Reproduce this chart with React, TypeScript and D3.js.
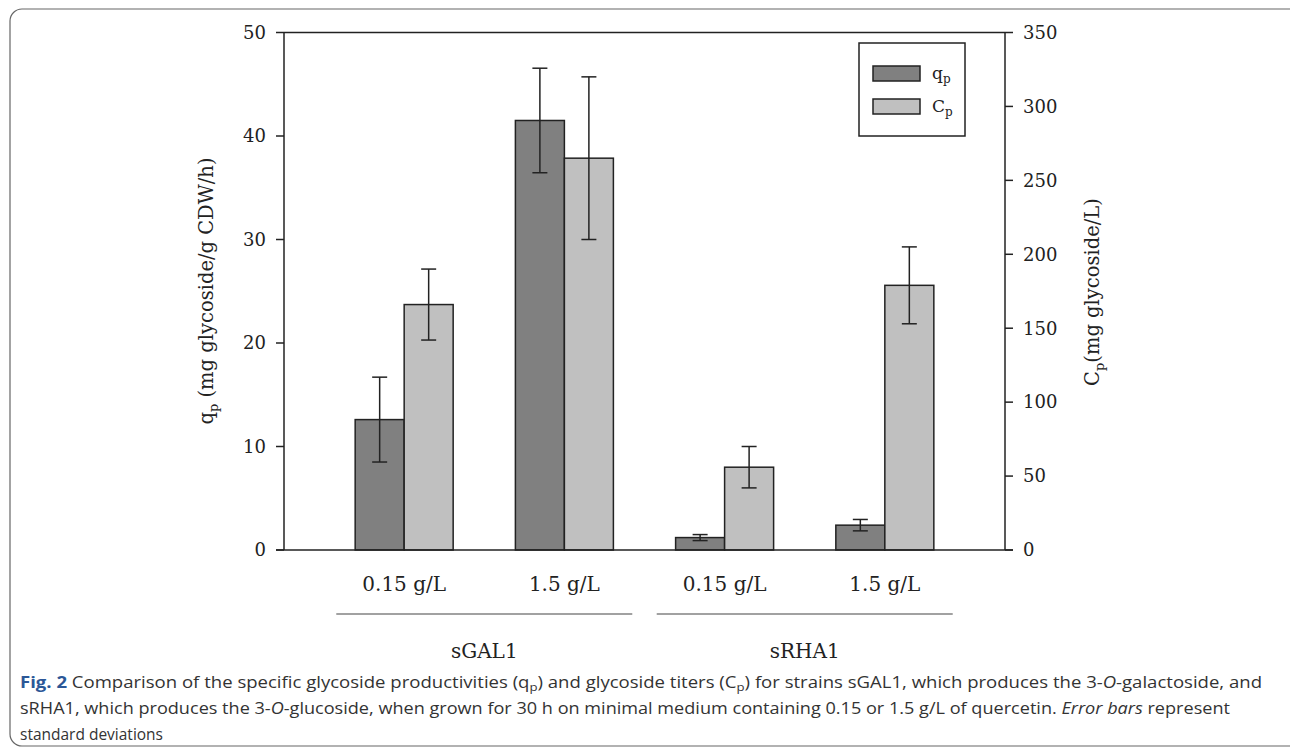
import React from 'react'
import { scalePoint, scaleBand, scaleLinear } from 'd3'

// chart values
const concentrations = ['0.15 g/L', '1.5 g/L', '0.15 g/L', '1.5 g/L']
const strains = ['sGAL1', 'sRHA1']
const qpValues = [12.6, 41.5, 1.2, 2.4]
const qpErrors = [4.1, 5.05, 0.29, 0.55]
const cpValues = [166, 265, 56, 179]
const cpErrors = [24, 55, 14, 26]
const qpTicks = [0, 10, 20, 30, 40, 50]
const cpTicks = [0, 50, 100, 150, 200, 250, 300, 350]

const W = 1290
const H = 750
const margin = { top: 32.5, bottom: 200, left: 284, right: 285 }
const ink = '#222'
const serif = '"DejaVu Serif", serif'
const sans = '"Open Sans", "Noto Sans", sans-serif'

export default function App() {
  const x = scalePoint<string>()
    .domain(concentrations.map((_, i) => String(i)))
    .range([margin.left, W - margin.right])
    .padding(0.75)
  const sub = scaleBand<string>().domain(['qp', 'cp']).range([-49, 49])
  const yq = scaleLinear().domain([0, 50]).range([H - margin.bottom, margin.top])
  const yc = scaleLinear().domain([0, 350]).range([H - margin.bottom, margin.top])

  const x0 = margin.left
  const x1 = W - margin.right
  const y0 = yq(0)

  const series = [
    { key: 'qp', values: qpValues, errors: qpErrors, y: yq, fill: '#808080' },
    { key: 'cp', values: cpValues, errors: cpErrors, y: yc, fill: '#c0c0c0' },
  ]

  return (
    <svg width={W} height={H} style={{ position: 'absolute', left: 0, top: 0, background: '#fff' }}>
      <rect x={10} y={9} width={1300} height={737} rx={12} fill="none" stroke="#666" strokeWidth={1.2} />

      {/* bars */}
      {series.map(s =>
        s.values.map((v, i) => {
          const cx = x(String(i))! + sub(s.key)!
          const bw = sub.bandwidth()
          return (
            <g key={s.key + i}>
              <rect x={cx} y={s.y(v)} width={bw} height={y0 - s.y(v)} fill={s.fill} stroke={ink} strokeWidth={1.5} />
              <line x1={cx + bw / 2} x2={cx + bw / 2} y1={s.y(v + s.errors[i])} y2={s.y(v - s.errors[i])} stroke={ink} strokeWidth={1.5} />
              <line x1={cx + bw / 2 - 7.5} x2={cx + bw / 2 + 7.5} y1={s.y(v + s.errors[i])} y2={s.y(v + s.errors[i])} stroke={ink} strokeWidth={1.5} />
              <line x1={cx + bw / 2 - 7.5} x2={cx + bw / 2 + 7.5} y1={s.y(v - s.errors[i])} y2={s.y(v - s.errors[i])} stroke={ink} strokeWidth={1.5} />
            </g>
          )
        })
      )}

      {/* frame of plot */}
      <line x1={x0} x2={x1} y1={margin.top} y2={margin.top} stroke={ink} strokeWidth={1.5} />
      <line x1={x0 - 8} x2={x1 + 8} y1={y0} y2={y0} stroke={ink} strokeWidth={1.5} />
      <line x1={x0} x2={x0} y1={margin.top} y2={y0} stroke={ink} strokeWidth={1.5} />
      <line x1={x1} x2={x1} y1={margin.top} y2={y0} stroke={ink} strokeWidth={1.5} />

      {/* left axis */}
      {qpTicks.map(t => (
        <g key={'q' + t}>
          <line x1={x0 - 8} x2={x0} y1={yq(t)} y2={yq(t)} stroke={ink} strokeWidth={1.5} />
          <text x={x0 - 18} y={yq(t)} dy="0.35em" textAnchor="end" fontFamily={serif} fontSize={18} fill={ink}>{t}</text>
        </g>
      ))}
      {/* right axis */}
      {cpTicks.map(t => (
        <g key={'c' + t}>
          <line x1={x1} x2={x1 + 8} y1={yc(t)} y2={yc(t)} stroke={ink} strokeWidth={1.5} />
          <text x={x1 + 18} y={yc(t)} dy="0.35em" textAnchor="start" fontFamily={serif} fontSize={18} fill={ink}>{t}</text>
        </g>
      ))}

      {/* axis titles */}
      <text transform="translate(206,291) rotate(-90)" textAnchor="middle" dy="0.35em" fontFamily={serif} fontSize={19.5} fill={ink}>
        q<tspan fontSize={13} dy={5}>p</tspan><tspan dy={-5}> (mg glycoside/g CDW/h)</tspan>
      </text>
      <text transform="translate(1092,292) rotate(-90)" textAnchor="middle" dy="0.35em" fontFamily={serif} fontSize={19.5} fill={ink}>
        C<tspan fontSize={13} dy={5}>p</tspan><tspan dy={-5}>(mg glycoside/L)</tspan>
      </text>

      {/* category labels */}
      {concentrations.map((c, i) => (
        <text key={'cat' + i} x={x(String(i))} y={591} textAnchor="middle" fontFamily={serif} fontSize={20} fill={ink}>{c}</text>
      ))}
      {strains.map((s, j) => {
        const a = x(String(j * 2))!
        const b = x(String(j * 2 + 1))!
        const mid = (a + b) / 2
        return (
          <g key={s}>
            <line x1={mid - 148} x2={mid + 148} y1={614} y2={614} stroke="#444" strokeWidth={1.2} />
            <text x={mid} y={658} textAnchor="middle" fontFamily={serif} fontSize={20} fill={ink}>{s}</text>
          </g>
        )
      })}

      {/* legend */}
      <rect x={859} y={43} width={106} height={93} fill="#fff" stroke={ink} strokeWidth={1.5} />
      <rect x={873} y={66} width={47} height={15} fill="#808080" stroke={ink} strokeWidth={1.5} />
      <rect x={873} y={99} width={47} height={15} fill="#c0c0c0" stroke={ink} strokeWidth={1.5} />
      <text x={932} y={79} fontFamily={serif} fontSize={17} fill={ink}>q<tspan fontSize={12} dy={4}>p</tspan></text>
      <text x={932} y={112} fontFamily={serif} fontSize={17} fill={ink}>C<tspan fontSize={12} dy={4}>p</tspan></text>

      {/* caption */}
      <text x={20} y={688} fontFamily={sans} fontSize={15.5} fill="#333" textLength={1242} lengthAdjust="spacingAndGlyphs">
        <tspan fontWeight="bold" fill="#2b5797">Fig. 2</tspan>
        <tspan>{'  Comparison of the specific glycoside productivities (q'}</tspan>
        <tspan fontSize={11} dy={3}>p</tspan>
        <tspan dy={-3}>{') and glycoside titers (C'}</tspan>
        <tspan fontSize={11} dy={3}>p</tspan>
        <tspan dy={-3}>{') for strains sGAL1, which produces the 3-'}</tspan>
        <tspan fontStyle="italic">O</tspan>
        <tspan>{'-galactoside, and'}</tspan>
      </text>
      <text x={20} y={714} fontFamily={sans} fontSize={15.5} fill="#333" textLength={1210} lengthAdjust="spacingAndGlyphs">
        <tspan>{'sRHA1, which produces the 3-'}</tspan>
        <tspan fontStyle="italic">O</tspan>
        <tspan>{'-glucoside, when grown for 30 h on minimal medium containing 0.15 or 1.5 g/L of quercetin. '}</tspan>
        <tspan fontStyle="italic">Error bars</tspan>
        <tspan>{' represent'}</tspan>
      </text>
      <text x={20} y={740} fontFamily={sans} fontSize={15.5} fill="#333" textLength={143} lengthAdjust="spacingAndGlyphs">
        standard deviations
      </text>
    </svg>
  )
}
